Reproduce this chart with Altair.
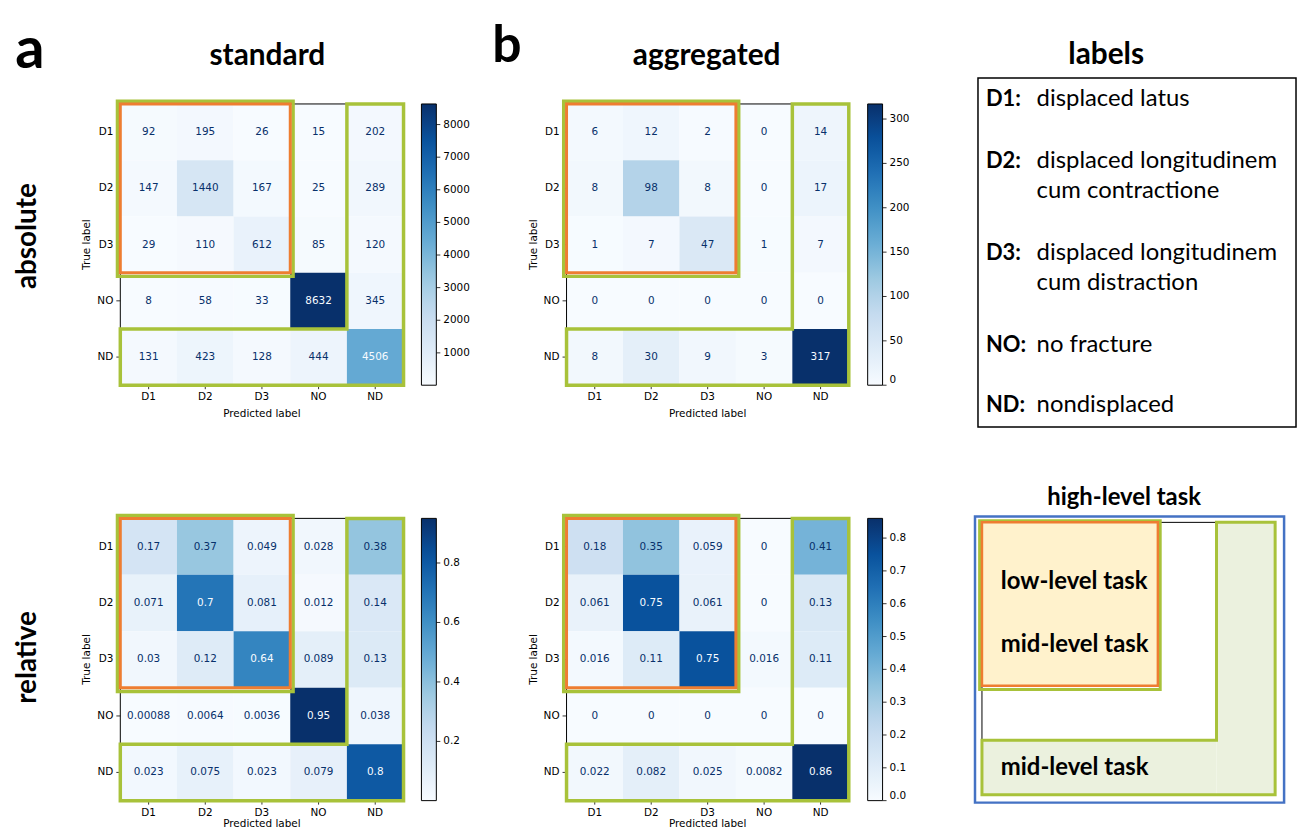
import altair as alt
import numpy as np
import pandas as pd

# ---------------- data ----------------
CATS = ["D1", "D2", "D3", "NO", "ND"]

STD_ABS = [
    [92, 195, 26, 15, 202],
    [147, 1440, 167, 25, 289],
    [29, 110, 612, 85, 120],
    [8, 58, 33, 8632, 345],
    [131, 423, 128, 444, 4506],
]
AGG_ABS = [
    [6, 12, 2, 0, 14],
    [8, 98, 8, 0, 17],
    [1, 7, 47, 1, 7],
    [0, 0, 0, 0, 0],
    [8, 30, 9, 3, 317],
]
STD_REL = [
    [0.17, 0.37, 0.049, 0.028, 0.38],
    [0.071, 0.7, 0.081, 0.012, 0.14],
    [0.03, 0.12, 0.64, 0.089, 0.13],
    [0.00088, 0.0064, 0.0036, 0.95, 0.038],
    [0.023, 0.075, 0.023, 0.079, 0.8],
]
AGG_REL = [
    [0.18, 0.35, 0.059, 0, 0.41],
    [0.061, 0.75, 0.061, 0, 0.13],
    [0.016, 0.11, 0.75, 0.016, 0.11],
    [0, 0, 0, 0, 0],
    [0.022, 0.082, 0.025, 0.0082, 0.86],
]

TICKS_STD_ABS = [1000, 2000, 3000, 4000, 5000, 6000, 7000, 8000]
TICKS_AGG_ABS = [0, 50, 100, 150, 200, 250, 300]
TICKS_STD_REL = [0.2, 0.4, 0.6, 0.8]
TICKS_AGG_REL = [0.0, 0.1, 0.2, 0.3, 0.4, 0.5, 0.6, 0.7, 0.8]

LABEL_KEYS = ["D1:", "D2:", "D3:", "NO:", "ND:"]
LABEL_TEXT = [
    ["displaced latus"],
    ["displaced longitudinem", "cum contractione"],
    ["displaced longitudinem", "cum distraction"],
    ["no fracture"],
    ["nondisplaced"],
]

# grid groupings (in cell units of the 5x5 matrix)
LOW_GROUP = (0, 3)  # D1..D3 x D1..D3
L_SHAPE = [(4, 0), (5, 0), (5, 5), (0, 5), (0, 4), (4, 4), (4, 0)]

# ---------------- style ----------------
W, H = 1298, 823
FONT_MPL = "DejaVu Sans"
FONT_FIG = "Lato"
GREEN = "#a8c23a"
ORANGE = "#ee7d31"
BLUE = "#4472c4"
BLUES = ["#f7fbff", "#deebf7", "#c6dbef", "#9ecae1", "#6baed6",
         "#4292c6", "#2171b5", "#08519c", "#08306b"]
N = len(CATS)
ONE = pd.DataFrame({"k": [0]})
TICK_DF = pd.DataFrame({"name": CATS, "pos": [i + 0.5 for i in range(N)]})


def cells_df(matrix):
    rows = []
    for i, t in enumerate(CATS):
        for j, p in enumerate(CATS):
            rows.append({"true": t, "pred": p, "r": i, "r2": i + 1,
                         "c": j, "c2": j + 1, "cx": j + 0.5, "cy": i + 0.5,
                         "v": matrix[i][j]})
    return pd.DataFrame(rows)


def dr(x0, x1, y0, y1, xs, ys, **mark):
    return alt.Chart(ONE).mark_rect(**mark).encode(
        x=alt.XDatum(x0, scale=xs, axis=None), x2=alt.X2Datum(x1),
        y=alt.YDatum(y0, scale=ys, axis=None), y2=alt.Y2Datum(y1))


def l_outline(xs, ys, width):
    df = pd.DataFrame({"px": [p[0] for p in L_SHAPE], "py": [p[1] for p in L_SHAPE],
                       "o": list(range(len(L_SHAPE)))})
    return alt.Chart(df).mark_line(stroke=GREEN, strokeWidth=width, strokeJoin="miter",
                                   strokeCap="square").encode(
        x=alt.X("px:Q", scale=xs, axis=None), y=alt.Y("py:Q", scale=ys, axis=None),
        order="o:Q")


def txt(s, x, y, size, weight="bold", align="center", baseline="alphabetic", angle=0,
        font=FONT_FIG):
    kw = dict(text=s, fontSize=size, fontWeight=weight, align=align, baseline=baseline,
              font=font, color="black")
    if angle:
        kw["angle"] = angle
    return alt.Chart(ONE).mark_text(**kw).encode(x=alt.value(x), y=alt.value(y))


def panel(matrix, fmt, xr, yr):
    df = cells_df(matrix)
    flat = [v for row in matrix for v in row]
    vmin, vmax = min(flat), max(flat)
    thr = (vmin + vmax) / 2
    dom = [float(d) for d in np.linspace(vmin, vmax, len(BLUES))]
    xs = alt.Scale(domain=[0, N], range=xr, nice=False, zero=False)
    ys = alt.Scale(domain=[0, N], range=yr, nice=False, zero=False)
    base = alt.Chart(df)
    cells = base.mark_rect().encode(
        x=alt.X("c:Q", scale=xs, axis=None), x2="c2:Q",
        y=alt.Y("r:Q", scale=ys, axis=None), y2="r2:Q",
        fill=alt.Fill("v:Q", scale=alt.Scale(domain=dom, range=BLUES), legend=None))
    frame = dr(0, N, 0, N, xs, ys, fillOpacity=0, stroke="black", strokeWidth=1)
    text = base.mark_text(font=FONT_MPL, fontSize=10.5, align="center",
                          baseline="middle").encode(
        x=alt.X("cx:Q", scale=xs, axis=None), y=alt.Y("cy:Q", scale=ys, axis=None),
        text=alt.Text("v:Q", format=fmt),
        color=alt.condition(f"datum.v > {thr}", alt.value("#f7fbff"), alt.value("#08306b")))
    # axis ticks and tick labels, placed through the panel scales
    tb = alt.Chart(TICK_DF)
    xticks = tb.mark_rule(color="black", strokeWidth=0.8).encode(
        x=alt.X("pos:Q", scale=xs, axis=None), y=alt.value(yr[1]), y2=alt.value(yr[1] + 4))
    xlabels = tb.mark_text(font=FONT_MPL, fontSize=10.5, baseline="top", color="black").encode(
        x=alt.X("pos:Q", scale=xs, axis=None), y=alt.value(yr[1] + 7), text="name:N")
    yticks = tb.mark_rule(color="black", strokeWidth=0.8).encode(
        y=alt.Y("pos:Q", scale=ys, axis=None), x=alt.value(xr[0] - 4), x2=alt.value(xr[0]))
    ylabels = tb.mark_text(font=FONT_MPL, fontSize=10.5, align="right", baseline="middle",
                           color="black").encode(
        y=alt.Y("pos:Q", scale=ys, axis=None), x=alt.value(xr[0] - 7), text="name:N")
    xtitle = txt("Predicted label", (xr[0] + xr[1]) / 2, min(yr[1] + 32, H - 1.5), 10.5,
                 weight="normal", font=FONT_MPL)
    ytitle = txt("True label", xr[0] - 28, (yr[0] + yr[1]) / 2, 10.5, weight="normal",
                 baseline="bottom", angle=270, font=FONT_MPL)
    pad = 0.05
    g0, g1 = LOW_GROUP
    green_box = dr(g0 - pad, g1 + pad, g0 - pad, g1 + pad * 1.3, xs, ys,
                   fillOpacity=0, stroke=GREEN, strokeWidth=3.5)
    orange_box = dr(g0, g1, g0, g1, xs, ys, fillOpacity=0, stroke=ORANGE, strokeWidth=3)
    main = alt.layer(cells, frame, text, xticks, xlabels, yticks, ylabels,
                     l_outline(xs, ys, 3.5), green_box, orange_box)
    return main, xtitle, ytitle, (vmin, vmax, dom)


def colorbar(info, ticks, tick_fmt, leg_x, yr):
    vmin, vmax, dom = info
    bar = alt.Chart(pd.DataFrame({"v": [vmin]})).mark_rect(opacity=0).encode(
        fill=alt.Fill("v:Q", scale=alt.Scale(domain=dom, range=BLUES),
                      legend=alt.Legend(orient="none", legendX=leg_x, legendY=yr[0],
                                        direction="vertical", gradientLength=yr[1] - yr[0],
                                        gradientThickness=15, values=ticks, format=tick_fmt,
                                        title=None, labelFont=FONT_MPL, labelFontSize=10.5,
                                        labelColor="black", labelOffset=7,
                                        gradientStrokeColor="black", gradientStrokeWidth=1,
                                        padding=0)),
        x=alt.value(0), y=alt.value(0))
    cs = alt.Scale(domain=[vmin, vmax], range=[yr[1], yr[0]], nice=False, zero=False)
    tk = alt.Chart(pd.DataFrame({"t": ticks})).mark_rule(color="black", strokeWidth=0.8).encode(
        y=alt.Y("t:Q", scale=cs, axis=None), x=alt.value(leg_x + 15), x2=alt.value(leg_x + 19))
    return [bar, tk]


# ---------------- panels ----------------
XA, XB = [113, 398], [562, 846]
Y1, Y2 = [94, 377], [511, 795]

layers = []
for matrix, fmt, xr, yr, ticks, tfmt, lx in [
    (STD_ABS, "d", XA, Y1, TICKS_STD_ABS, "d", 416),
    (AGG_ABS, "d", XB, Y1, TICKS_AGG_ABS, "d", 865),
    (STD_REL, ".2~g", XA, Y2, TICKS_STD_REL, ".1f", 416),
    (AGG_REL, ".2~g", XB, Y2, TICKS_AGG_REL, ".1f", 865),
]:
    main, xt, yt, info = panel(matrix, fmt, xr, yr)
    layers += [main, xt, yt] + colorbar(info, ticks, tfmt, lx, yr)

# ---------------- high-level task schematic ----------------
hxs = alt.Scale(domain=[0, N], range=[980, 1275], nice=False, zero=False)
hys = alt.Scale(domain=[0, N], range=[515, 789], nice=False, zero=False)
g0, g1 = LOW_GROUP
hl = alt.layer(
    dr(0, N, 0, N, hxs, hys, fillOpacity=0, stroke="black", strokeWidth=1),
    dr(4, 5, 0, 5, hxs, hys, fill="#ebf1de"),
    dr(0, 4, 4, 5, hxs, hys, fill="#ebf1de"),
    l_outline(hxs, hys, 3),
    dr(g0 - 0.04, g1 + 0.04, g0 - 0.03, g1 + 0.07, hxs, hys, fillOpacity=0,
       stroke=GREEN, strokeWidth=3),
    dr(g0, g1, g0, g1, hxs, hys, fill="#fff2cc", stroke=ORANGE, strokeWidth=2.5),
)
blue_box = alt.Chart(ONE).mark_rect(fillOpacity=0, stroke=BLUE, strokeWidth=2.5).encode(
    x=alt.value(973), x2=alt.value(1284), y=alt.value(509), y2=alt.value(797))
labels_box = alt.Chart(ONE).mark_rect(fillOpacity=0, stroke="black", strokeWidth=1.5).encode(
    x=alt.value(976), x2=alt.value(1296), y=alt.value(68), y2=alt.value(419))

texts = [
    txt("a", 22, 58, 58),
    txt("b", 502, 52, 52),
    txt("standard", 261, 55, 30),
    txt("aggregated", 703, 55, 30),
    txt("absolute", 28, 227, 28, angle=270),
    txt("relative", 28, 651, 28, angle=270),
    txt("labels", 1105, 54, 30),
    txt("high-level task", 1123, 498, 24),
    txt("low-level task", 999, 582, 24, align="left"),
    txt("mid-level task", 999, 645, 24, align="left"),
    txt("mid-level task", 999, 769, 24, align="left"),
]
label_rows_y = [[89], [151, 182], [244, 274], [337], [397]]
for key, lines, ys_ in zip(LABEL_KEYS, LABEL_TEXT, label_rows_y):
    texts.append(txt(key, 984, ys_[0], 22, align="left", baseline="middle"))
    for line, yy in zip(lines, ys_):
        texts.append(txt(line, 1035, yy, 24, weight="normal", align="left",
                         baseline="middle"))

chart = alt.layer(*layers, hl, blue_box, labels_box, *texts).resolve_scale(
    x="independent", y="independent", fill="independent"
).resolve_legend(fill="independent").properties(
    width=W, height=H, autosize=alt.AutoSizeParams(type="none"), padding=0
).configure_view(strokeWidth=0)

chart.save("out.html", embed_options={"renderer": "svg", "actions": False})
